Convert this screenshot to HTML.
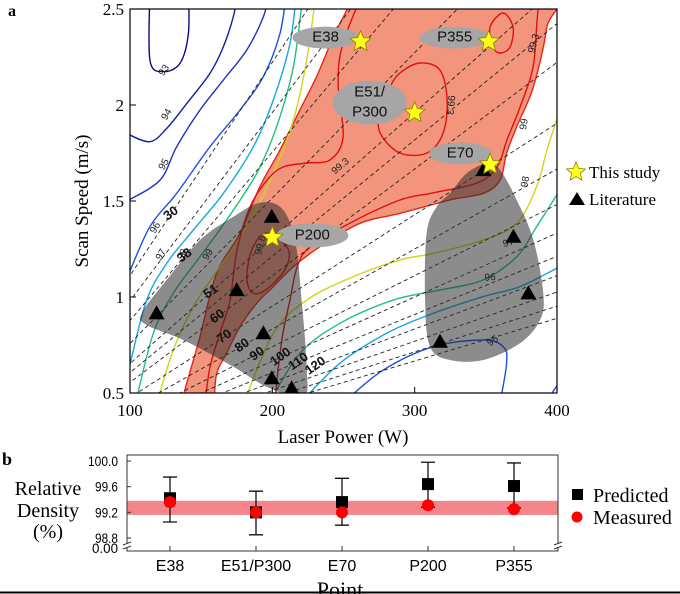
<!DOCTYPE html>
<html><head><meta charset="utf-8">
<style>
html,body{margin:0;padding:0;background:#fff;}
svg{display:block;}
.serif{font-family:"Liberation Serif",serif;}
.sans{font-family:"Liberation Sans",sans-serif;}
</style></head>
<body>
<svg id="fig" width="680" height="594" viewBox="0 0 680 594" xmlns="http://www.w3.org/2000/svg">
<defs><clipPath id="clipA"><rect x="130" y="9" width="427" height="384"/></clipPath></defs>
<g id="gA"></g>
<g id="gB"></g>
</svg>
<script>
// ---------- Panel a data ----------
const studyNames = ["E38","E51/P300","E70","P200","P355"];
const studyPower = [262,300,353,200,352];
const studySpeed = [2.33,1.96,1.69,1.31,2.33];
const litPower = [118.7,175,199.6,193.7,199.6,213.6,348.3,369.4,379.9,317.8];
const litSpeed = [0.915,1.036,1.418,0.811,0.577,0.524,1.661,1.314,1.019,0.767];
const energyLines = [30,34,38,44,51,55,60,70,80,90,100,110,120,130,140,150];
const energyLabels = [30,38,51,60,70,80,90,100,110,120];
const xTicks = [100,200,300,400];
const yTicks = [0.5,1,1.5,2,2.5];
const yTickLabels = ["0.5","1","1.5","2","2.5"];

// ---------- Panel b data ----------
const points = ["E38","E51/P300","E70","P200","P355"];
const predicted = [99.42,99.2,99.36,99.64,99.61];
const predLow = [99.05,98.85,99.0,99.28,99.27];
const predHigh = [99.75,99.53,99.73,99.98,99.97];
const measured = [99.36,99.2,99.2,99.31,99.25];
const measErr = [0.06,0.04,0.03,0.02,0.04];
const bandRange = [99.16,99.38];
const bTicks = [100.0,99.6,99.2,98.8];

const NS="http://www.w3.org/2000/svg";
function mk(tag,attrs,parent){const e=document.createElementNS(NS,tag);for(const k in attrs)e.setAttribute(k,attrs[k]);parent.appendChild(e);return e;}
const X=p=>130+(p-100)*1.4233;
const Y=v=>393-(v-0.5)*192;
function smooth(pts,closed){
  const P=pts.map(q=>[X(q[0]),Y(q[1])]);const n=P.length;let d="M"+P[0][0].toFixed(1)+","+P[0][1].toFixed(1);
  const g=i=>closed?P[(i+n)%n]:P[Math.max(0,Math.min(n-1,i))];
  const m=closed?n:n-1;
  for(let i=0;i<m;i++){const p0=g(i-1),p1=g(i),p2=g(i+1),p3=g(i+2);
    d+=" C"+(p1[0]+(p2[0]-p0[0])/6).toFixed(1)+","+(p1[1]+(p2[1]-p0[1])/6).toFixed(1)+" "+(p2[0]-(p3[0]-p1[0])/6).toFixed(1)+","+(p2[1]-(p3[1]-p1[1])/6).toFixed(1)+" "+p2[0].toFixed(1)+","+p2[1].toFixed(1);}
  return closed?d+"Z":d;}

const gA=document.getElementById("gA");
const clip=mk("g",{"clip-path":"url(#clipA)"},gA);

const region99=[[136.3,0.4],[149.2,0.793],[160.9,1.123],[177.3,1.332],[191.3,1.575],[205.4,1.766],[219.4,1.974],[231.1,2.148],[242.9,2.356],[252.2,2.495],[256,2.6],[392,2.6],[392.7,2.40],[383.4,2.095],[371.7,1.887],[364.6,1.748],[360,1.609],[348.2,1.540],[324.8,1.505],[289.7,1.436],[261.6,1.384],[233.5,1.262],[214.8,1.158],[200.7,1.054],[189.0,0.967],[177.3,0.845],[167.9,0.707],[160.9,0.602],[156.2,0.4]];
let e=mk("path",{d:smooth(region99,true),fill:"#f2957c",stroke:"#e8251a","stroke-width":1.4},clip);



const contours=[
 {v:"92",c:"#0a0a7a",pts:[[114,2.6],[114,2.234],[123.4,2.174],[135.1,2.217],[141,2.373],[141,2.6]]},
 {v:"93",c:"#10209a",pts:[[98,1.85],[114,1.809],[125.8,1.878],[140,2.009],[156.2,2.165],[165.6,2.304],[172.6,2.46],[176.1,2.6]]},
 {v:"94",c:"#1a32b8",pts:[[98,1.5],[121.1,1.609],[132.8,1.783],[149.2,1.974],[165.6,2.130],[182,2.286],[193.7,2.46],[198.4,2.6]]},
 {v:"95",c:"#1e50e0",pts:[[98,1.1],[114,1.366],[132.8,1.540],[156.2,1.783],[177.3,1.974],[193.7,2.148],[205.4,2.373],[210.1,2.6]]},
 {v:"96",c:"#14a8e0",pts:[[100,0.65],[111.7,0.984],[125.8,1.175],[144.5,1.349],[165.6,1.540],[186.7,1.783],[200.7,2.026],[212.4,2.321],[217.1,2.6]]},
 {v:"97",c:"#22c07a",pts:[[104,0.45],[116.4,0.811],[130.4,1.019],[149.2,1.210],[167.9,1.401],[189,1.644],[203,1.887],[214.8,2.2],[221.8,2.6]]},
 {v:"98",c:"#d4d41c",pts:[[119,0.45],[130.4,0.724],[144.5,0.95],[163.2,1.158],[182,1.366],[200.7,1.644],[214.8,1.922],[224.1,2.234],[231.1,2.6]]},
 {v:"98",c:"#d4d41c",pts:[[180,0.45],[200.7,0.811],[224.1,0.984],[256.9,1.106],[289.7,1.193],[313.1,1.227],[348.2,1.297],[371.7,1.384],[385.7,1.575],[393,1.766],[402,1.974]]},
 {v:"97",c:"#22c07a",pts:[[198,0.45],[219.4,0.707],[247.5,0.863],[285,0.984],[317.8,1.036],[348.2,1.089],[371.7,1.21],[385.7,1.366],[402,1.557]]},
 {v:"96",c:"#14a8e0",pts:[[220,0.45],[247.5,0.655],[280.3,0.811],[313.1,0.915],[348.2,1.002],[374,1.054],[402,1.158]]},
 {v:"95",c:"#1e50e0",pts:[[250,0.45],[278,0.62],[313.1,0.741],[348.2,0.776],[362.3,0.741],[364.6,0.655],[360,0.45]]},
 {v:"95",c:"#1e50e0",pts:[[392,0.45],[402,0.56]]},
 {v:"99.3",c:"#e01010",pts:[[264.5,2.6],[249.7,2.323],[246.2,2.115],[249.7,1.833],[240.5,1.714],[224.4,1.698],[207.5,1.677],[196.3,1.609],[184.3,1.469],[175.2,1.245],[170.3,0.984],[163.2,0.813],[156.2,0.635],[152.7,0.45]]},
 {v:"99.3",c:"#e01010",pts:[[388,2.6],[386,2.443],[383.2,2.198],[374.1,1.990],[364.9,1.818],[357.9,1.677],[343.8,1.594],[312.9,1.542],[289.7,1.505],[254.6,1.385],[226.5,1.260],[217.4,1.156],[212.4,0.984],[207.5,0.813],[204,0.620],[201.9,0.45]]}
];
contours.forEach(c=>{const p=mk("path",{d:smooth(c.pts,false),fill:"none",stroke:c.c,"stroke-width":1.4},clip);
 
 });
const loops=[
 {v:"99.3",pts:[[289.7,2.167],[303.8,2.219],[317.8,2.182],[322.8,2.026],[320,1.854],[308.7,1.75],[289.7,1.75],[275.7,1.854],[275.7,1.974],[282.7,2.094]]},
 {v:"99.6",pts:[[353,2.406],[362.1,2.479],[369.1,2.406],[367,2.302],[360,2.271],[355.1,2.302]]},
 {v:"99.6",pts:[[184.3,1.036],[182.2,1.125],[186.4,1.260],[196.3,1.333],[210.3,1.260],[211,1.177],[203.3,1.089],[191.4,1.021]]}
];
loops.forEach(c=>{const p=mk("path",{d:smooth(c.pts,true),fill:"none",stroke:"#e01010","stroke-width":1.4},clip);
 
 });

energyLines.forEach(E=>{const l=mk("line",{x1:X(90),y1:Y(90/(3*E)),x2:X(410),y2:Y(410/(3*E)),stroke:"#222","stroke-width":0.9,"stroke-dasharray":"4,3"},clip);
 
 });

const blobL=[[108.2,0.915],[125.8,1.089],[149.2,1.297],[172.6,1.418],[191.3,1.491],[206.6,1.462],[215.9,1.297],[220.6,0.984],[224.1,0.637],[221.8,0.48],[196.0,0.533],[172.6,0.637],[137.5,0.776],[111.7,0.854]];
const blobR=[[324.8,1.540],[336.5,1.644],[350.6,1.696],[360,1.661],[371.7,1.505],[383.4,1.297],[390.4,1.019],[388.1,0.880],[374.0,0.759],[348.2,0.672],[324.8,0.672],[310.8,0.741],[307.3,0.984],[308.4,1.332],[315.5,1.470]];
[blobL,blobR].forEach((b,i)=>{const p=mk("path",{d:smooth(b,true),fill:"rgba(45,45,45,0.55)"},clip);
 
 });

const cLabels=[["92",121,2.62,-80],["93",124,2.18,-55],["94",126,1.95,-60],["95",124,1.69,-60],["96",118,1.36,-60],["97",122,1.22,-60],["98",137,1.22,-60],["99",155,1.22,-60],["99.6",192,1.27,-75],["99.3",248,1.68,-40],["99.3",325,2.0,95],["99.6",361,2.51,0],["99.3",384,2.32,-75],["99",377,1.9,-80],["98",378,1.6,-80],["97",366,1.28,-15],["96",353,1.1,-5],["95",355,0.77,-35]];
cLabels.forEach(t=>{const tx=mk("text",{x:X(t[1]),y:Y(t[2]),"font-size":10,fill:"#222","text-anchor":"middle","dominant-baseline":"middle",transform:`rotate(${t[3]} ${X(t[1])} ${Y(t[2])})`,class:"sans"},clip);tx.textContent=t[0];
 
 });
const eLabelPower=[129,138.5,157,161.5,166.5,179,189.5,206,218.5,230.5];
energyLabels.forEach((E,i)=>{const px=X(eLabelPower[i]),py=Y(eLabelPower[i]/(3*E));
 const tx=mk("text",{x:px,y:py,"font-size":13,"font-weight":"bold",fill:"#111","text-anchor":"middle","dominant-baseline":"middle",transform:`rotate(-35 ${px} ${py})`,class:"sans"},clip);tx.textContent=E;
 
 });

const callouts=[["E38",-35,-4,33,11],["E51/P300",-45,-10,37,22],["E70",-30,-11,31,11],["P200",40,-2,36,12],["P355",-34,-4,35,11]];
studyNames.forEach((n,i)=>{const c=callouts[i];const cx=X(studyPower[i])+c[1],cy=Y(studySpeed[i])+c[2];
 const el=mk("ellipse",{cx:cx,cy:cy,rx:c[3],ry:c[4],fill:"#a6a6a6"},clip);
 
 
 const parts=n==="E51/P300"?["E51/","P300"]:[n];
 parts.forEach((s,k)=>{const t=mk("text",{x:cx,y:cy+(parts.length>1?(k?10:-10):0),"font-size":15,fill:"#111","text-anchor":"middle","dominant-baseline":"middle",class:"sans"},clip);t.textContent=s;
  
  });});

function star(cx,cy,r){let d="";for(let k=0;k<10;k++){const a=-Math.PI/2+k*Math.PI/5,rr=k%2?r*0.45:r;d+=(k?"L":"M")+(cx+rr*Math.cos(a)).toFixed(1)+","+(cy+rr*Math.sin(a)).toFixed(1);}return d+"Z";}
litPower.forEach((p,i)=>{const cx=X(p),cy=Y(litSpeed[i]);
 const t=mk("path",{d:`M${cx},${cy-8}L${cx+8},${cy+6}L${cx-8},${cy+6}Z`,fill:"#000"},clip);
 
 });
studyPower.forEach((p,i)=>{const s=mk("path",{d:star(X(p),Y(studySpeed[i]),11),fill:"#ffff1a",stroke:"#8a8400","stroke-width":0.8},clip);
 
 });

e=mk("rect",{x:130,y:9,width:427,height:384,fill:"none",stroke:"#000","stroke-width":1.2},gA);


xTicks.forEach(t=>{mk("line",{x1:X(t),y1:393,x2:X(t),y2:387,stroke:"#000"},gA);
 const tx=mk("text",{x:X(t),y:416,"font-size":17,"text-anchor":"middle",class:"serif"},gA);tx.textContent=t;
 
 });
yTicks.forEach((t,i)=>{mk("line",{x1:130,y1:Y(t),x2:136,y2:Y(t),stroke:"#000"},gA);
 const tx=mk("text",{x:124,y:Y(t)+6,"font-size":17,"text-anchor":"end",class:"serif"},gA);tx.textContent=yTickLabels[i];
 
 });
e=mk("text",{x:343,y:443,"font-size":19,"text-anchor":"middle",class:"serif"},gA);e.textContent="Laser Power (W)";


e=mk("text",{x:88,y:201,"font-size":19,"text-anchor":"middle",transform:"rotate(-90 88 201)",class:"serif"},gA);e.textContent="Scan Speed (m/s)";


e=mk("text",{x:8,y:16,"font-size":16,"font-weight":"bold",class:"serif"},gA);e.textContent="a";


e=mk("path",{d:star(576,172,10),fill:"#ffff1a",stroke:"#8a8400","stroke-width":0.8},gA);


e=mk("text",{x:589,y:178,"font-size":17,class:"serif"},gA);e.textContent="This study";


e=mk("path",{d:"M577,192L585,205L569,205Z",fill:"#000"},gA);


e=mk("text",{x:589,y:205,"font-size":17,class:"serif"},gA);e.textContent="Literature";



// ---------- Panel b ----------
const gB=document.getElementById("gB");
const BL=127,BR=558,BT=455,BBot=551;
const BX=i=>170+i*86;
const BY=v=>461+(100-v)*64.2;
e=mk("rect",{x:BL,y:BY(bandRange[1]),width:BR-BL,height:BY(bandRange[0])-BY(bandRange[1]),fill:"#f4858a"},gB);


e=mk("rect",{x:BL,y:BT,width:BR-BL,height:BBot-BT,fill:"none",stroke:"#333","stroke-width":1},gB);


[BL,BR].forEach(x=>{mk("rect",{x:x-4,y:543,width:8,height:4,fill:"#fff"},gB);
 mk("path",{d:`M${x-4},${545}l8,-3M${x-4},${549}l8,-3`,stroke:"#333","stroke-width":1,fill:"none"},gB);});
bTicks.forEach(t=>{mk("line",{x1:BL,y1:BY(t),x2:BL+4,y2:BY(t),stroke:"#333"},gB);
 const tx=mk("text",{x:118,y:BY(t)+5,"font-size":13.5,"text-anchor":"end",class:"sans",textLength:30,lengthAdjust:"spacingAndGlyphs"},gB);tx.textContent=t.toFixed(1);
 if(t===100)tx.setAttribute("textLength",30);else tx.setAttribute("textLength",23);
 
 });
e=mk("text",{x:118,y:553,"font-size":13.5,"text-anchor":"end",class:"sans",textLength:26,lengthAdjust:"spacingAndGlyphs"},gB);e.textContent="0.00";


points.forEach((p,i)=>{const x=BX(i);
 mk("line",{x1:x,y1:BBot,x2:x,y2:BBot-5,stroke:"#333"},gB);
 const eb=mk("path",{d:`M${x},${BY(predHigh[i])}V${BY(predLow[i])}M${x-7},${BY(predHigh[i])}h14M${x-7},${BY(predLow[i])}h14`,stroke:"#111","stroke-width":1.3,fill:"none"},gB);
 
 
 const sq=mk("rect",{x:x-6,y:BY(predicted[i])-6,width:12,height:12,fill:"#000"},gB);
 
 
 const me=mk("path",{d:`M${x},${BY(measured[i]+measErr[i])}V${BY(measured[i]-measErr[i])}M${x-5},${BY(measured[i]+measErr[i])}h10M${x-5},${BY(measured[i]-measErr[i])}h10`,stroke:"#e00",fill:"none","stroke-width":1.3},gB);
 
 
 const c=mk("circle",{cx:x,cy:BY(measured[i]),r:6,fill:"#f00"},gB);
 
 
 const tx=mk("text",{x:x,y:571,"font-size":16,"text-anchor":"middle",class:"sans"},gB);tx.textContent=p;
 
 });
e=mk("text",{x:340,y:597,"font-size":22,"text-anchor":"middle",class:"serif"},gB);e.textContent="Point";


["Relative","Density","(%)"].forEach((s,k)=>{const t=mk("text",{x:48,y:[495,517,538][k],"font-size":20,"text-anchor":"middle",class:"serif"},gB);t.textContent=s;
 
 });
e=mk("text",{x:2,y:465,"font-size":18,"font-weight":"bold",class:"serif"},gB);e.textContent="b";


e=mk("line",{x1:0,y1:592.5,x2:680,y2:592.5,stroke:"#000","stroke-width":2},gB);


e=mk("rect",{x:572,y:489,width:11,height:11,fill:"#000"},gB);


e=mk("text",{x:593,y:502,"font-size":20,class:"serif"},gB);e.textContent="Predicted";


e=mk("circle",{cx:577,cy:517,r:5.5,fill:"#f00"},gB);


e=mk("text",{x:593,y:524,"font-size":20,class:"serif"},gB);e.textContent="Measured";


</script>
</body></html>
